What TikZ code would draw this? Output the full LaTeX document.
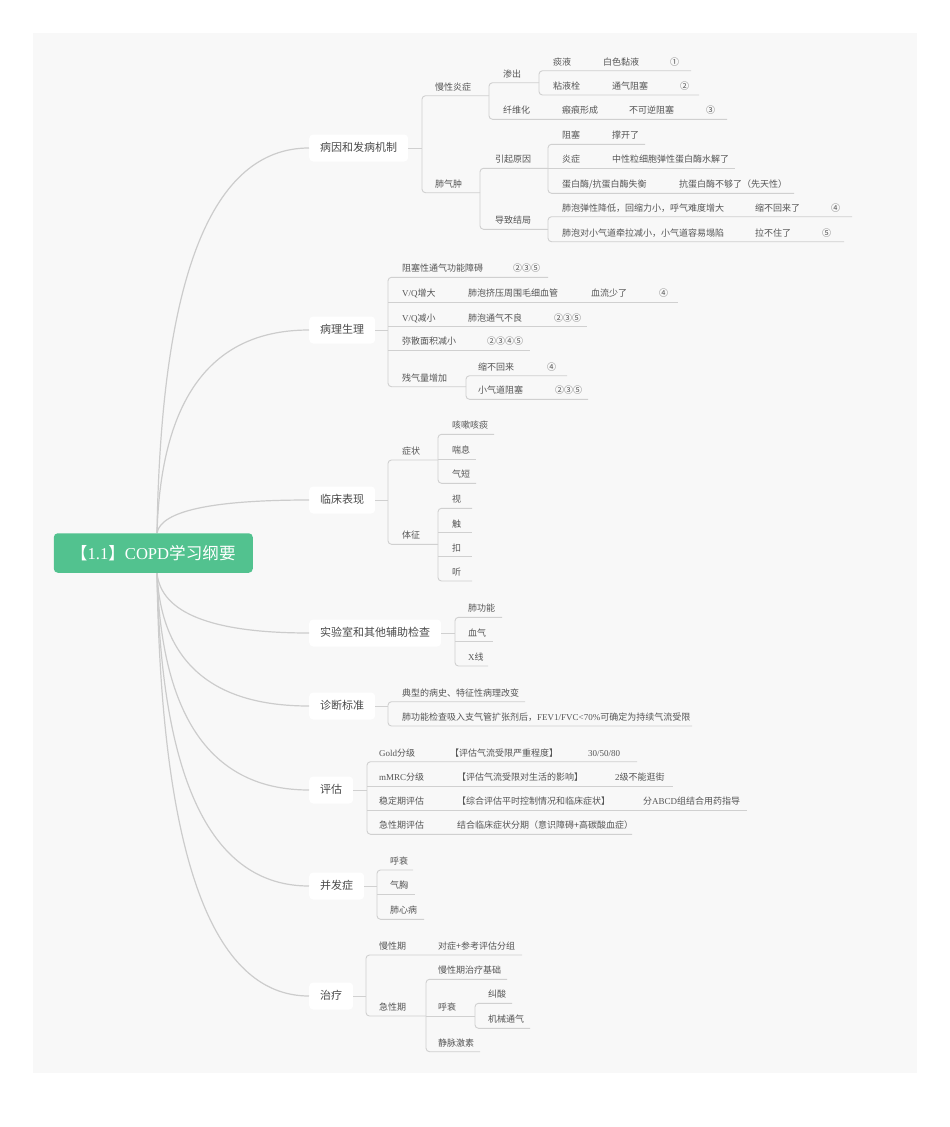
\documentclass[tikz,border=0pt]{standalone}
\usepackage{fontspec}
\setmainfont{Noto Sans CJK SC}
\newfontfamily\latfont{Liberation Serif}
\newcommand\lat[1]{{\latfont #1}}
\usetikzlibrary{calc}
\definecolor{panelbg}{HTML}{F8F8F8}
\definecolor{mmgreen}{HTML}{52C28F}
\definecolor{lncol}{HTML}{D0D0D0}
\definecolor{crvcol}{HTML}{CCCCCC}
\definecolor{txtcol}{HTML}{555555}
\definecolor{txtone}{HTML}{4A4A4A}
\tikzset{
  leaf/.style={anchor=west, inner sep=0pt, text height=7.4pt, text depth=1.2pt,
    font=\fontsize{9}{10}\selectfont, text=txtcol},
  ul/.style={draw=lncol, line width=0.9pt},
  lone/.style={anchor=west, fill=white, rounded corners=4pt, inner xsep=11pt, inner ysep=0pt,
    minimum height=27pt, text height=9pt, text depth=1.6pt,
    font=\fontsize{11}{12}\selectfont, text=txtone},
  rootbox/.style={fill=mmgreen, rounded corners=4pt, minimum width=199pt, minimum height=39.5pt,
    inner sep=0pt, text=white, font=\fontsize{16.6}{18}\selectfont},
  crv/.style={draw=crvcol, line width=1.2pt},
}
\newcommand\tx[4]{\node[leaf] (#1) at (#2,{#3-8.5}) {#4};}
\newcommand\ul[3]{\draw[ul] (#1,#3) -- (#2,#3);}
\newcommand\brk[5]{\draw[ul,rounded corners=3.5pt] (#3,#2) -- (#1,#2) -- (#1,#4) -- (#5,#4);}
\begin{document}
\begin{tikzpicture}[x=1pt,y=-1pt]
\useasboundingbox (0,0) rectangle (950,1127);
\fill[panelbg] (33,33) rectangle (917,1073);

% ---------- level one nodes
\node[lone] (n1) at (309,148) {病因和发病机制};
\node[lone] (n2) at (309,330) {病理生理};
\node[lone] (n3) at (309,500) {临床表现};
\node[lone] (n4) at (309,633) {实验室和其他辅助检查};
\node[lone] (n5) at (309,706) {诊断标准};
\node[lone] (n6) at (309,790) {评估};
\node[lone] (n7) at (309,886) {并发症};
\node[lone] (n8) at (309,996) {治疗};

% ---------- curves from root (quadratic-like)
\foreach \n/\sy in {n1/533,n2/533,n3/533,n4/573,n5/573,n6/573,n7/573,n8/573}{
  \coordinate (s) at (157,\sy);
  \coordinate (c) at ($(s |- \n.west)+(6,0)$);
  \draw[crv] (s) .. controls ($(s)!0.6667!(c)$) and ($(\n.west)!0.6667!(c)$) .. (\n.west);
}
\node[rootbox] (root) at (153.3,553) {【\lat{1.1}】\lat{COPD}学习纲要};

% ---------- branch 1
\draw[ul] (n1.east) -- (422,148);
\brk{422}{95.7}{489}{192.7}{480}
\tx{a1}{435}{95.7}{慢性炎症}
\tx{a2}{435}{192.7}{肺气肿}
\brk{489}{82.7}{539}{119.3}{727}
\tx{a11}{503}{82.7}{渗出}
\tx{a12}{503}{119.3}{纤维化}
\tx{a121}{562}{119.3}{瘢痕形成}
\tx{a122}{629}{119.3}{不可逆阻塞}
\tx{a123}{706}{119.3}{③}
\brk{539}{70.7}{691}{95}{699}
\tx{a111}{553}{70.7}{痰液}
\tx{a1111}{603}{70.7}{白色黏液}
\tx{a1112}{670}{70.7}{①}
\tx{a112}{553}{95}{粘液栓}
\tx{a1121}{612}{95}{通气阻塞}
\tx{a1122}{680}{95}{②}
\brk{480}{168.3}{548}{229.3}{548}
\tx{a21}{495}{168.3}{引起原因}
\tx{a22}{495}{229.3}{导致结局}
\brk{548}{144.3}{645}{193.3}{794}
\ul{548}{735}{168.3}
\tx{a211}{562}{144.3}{阻塞}
\tx{a2111}{612}{144.3}{撑开了}
\tx{a212}{562}{168.3}{炎症}
\tx{a2121}{612}{168.3}{中性粒细胞弹性蛋白酶水解了}
\tx{a213}{562}{193.3}{蛋白酶/抗蛋白酶失衡}
\tx{a2131}{679}{193.3}{抗蛋白酶不够了（先天性）}
\brk{548}{216.7}{852}{241.7}{844}
\tx{a221}{562}{216.7}{肺泡弹性降低，回缩力小，呼气难度增大}
\tx{a2211}{755}{216.7}{缩不回来了}
\tx{a2212}{831}{216.7}{④}
\tx{a222}{562}{241.7}{肺泡对小气道牵拉减小，小气道容易塌陷}
\tx{a2221}{755}{241.7}{拉不住了}
\tx{a2222}{822}{241.7}{⑤}

% ---------- branch 2
\draw[ul] (n2.east) -- (388,330);
\brk{388}{277.3}{548}{386.7}{466}
\ul{388}{678}{302.3}
\ul{388}{587}{326.7}
\ul{388}{530}{350}
\tx{b1}{402}{277.3}{阻塞性通气功能障碍}
\tx{b11}{513}{277.3}{②③⑤}
\tx{b2}{402}{302.3}{\lat{V/Q}增大}
\tx{b21}{468}{302.3}{肺泡挤压周围毛细血管}
\tx{b22}{591}{302.3}{血流少了}
\tx{b23}{659}{302.3}{④}
\tx{b3}{402}{326.7}{\lat{V/Q}减小}
\tx{b31}{468}{326.7}{肺泡通气不良}
\tx{b32}{554}{326.7}{②③⑤}
\tx{b4}{402}{350}{弥散面积减小}
\tx{b41}{487}{350}{②③④⑤}
\tx{b5}{402}{386.7}{残气量增加}
\brk{466}{375.7}{567}{399.3}{588}
\tx{b51}{478}{375.7}{缩不回来}
\tx{b511}{547}{375.7}{④}
\tx{b52}{478}{399.3}{小气道阻塞}
\tx{b521}{555}{399.3}{②③⑤}

% ---------- branch 3
\draw[ul] (n3.east) -- (388,500);
\brk{388}{460}{438}{544.3}{438}
\tx{c1}{402}{460}{症状}
\tx{c2}{402}{544.3}{体征}
\brk{438}{434.3}{494}{483.3}{476}
\ul{438}{476}{459.3}
\tx{c11}{452}{434.3}{咳嗽咳痰}
\tx{c12}{452}{459.3}{喘息}
\tx{c13}{452}{483.3}{气短}
\brk{438}{508.3}{472}{581}{472}
\ul{438}{472}{532.7}
\ul{438}{472}{556.7}
\tx{c21}{452}{508.3}{视}
\tx{c22}{452}{532.7}{触}
\tx{c23}{452}{556.7}{扣}
\tx{c24}{452}{581}{听}

% ---------- branch 4
\draw[ul] (n4.east) -- (455,633);
\brk{455}{617.3}{502}{666}{488}
\ul{455}{493}{641.7}
\tx{d1}{468}{617.3}{肺功能}
\tx{d2}{468}{641.7}{血气}
\tx{d3}{468}{666}{\lat{X}线}

% ---------- branch 5
\draw[ul] (n5.east) -- (388,706);
\brk{388}{701.7}{525}{726}{692}
\tx{e1}{402}{701.7}{典型的病史、特征性病理改变}
\tx{e2}{402}{726}{肺功能检查吸入支气管扩张剂后，\lat{FEV1/FVC<70\%}可确定为持续气流受限}

% ---------- branch 6
\draw[ul] (n6.east) -- (367,790);
\brk{367}{761.7}{637}{834.3}{632}
\ul{367}{673}{786}
\ul{367}{747}{810}
\tx{f1}{379}{761.7}{\lat{Gold}分级}
\tx{f11}{450}{761.7}{【评估气流受限严重程度】}
\tx{f12}{588}{761.7}{\lat{30/50/80}}
\tx{f2}{379}{786}{\lat{mMRC}分级}
\tx{f21}{457}{786}{【评估气流受限对生活的影响】}
\tx{f22}{615}{786}{\lat{2}级不能逛街}
\tx{f3}{379}{810}{稳定期评估}
\tx{f31}{457}{810}{【综合评估平时控制情况和临床症状】}
\tx{f32}{643}{810}{分\lat{ABCD}组结合用药指导}
\tx{f4}{379}{834.3}{急性期评估}
\tx{f41}{457}{834.3}{结合临床症状分期（意识障碍+高碳酸血症）}

% ---------- branch 7
\draw[ul] (n7.east) -- (377,886);
\brk{377}{870}{413}{919.3}{424}
\ul{377}{415}{894.3}
\tx{g1}{390}{870}{呼衰}
\tx{g2}{390}{894.3}{气胸}
\tx{g3}{390}{919.3}{肺心病}

% ---------- branch 8
\draw[ul] (n8.east) -- (366,996);
\brk{366}{955}{522}{1016}{426}
\tx{h1}{379}{955}{慢性期}
\tx{h11}{438}{955}{对症+参考评估分组}
\tx{h2}{379}{1016}{急性期}
\brk{426}{979.3}{507}{1051.7}{480}
\ul{426}{475}{1016}
\tx{h21}{438}{979.3}{慢性期治疗基础}
\tx{h22}{438}{1016}{呼衰}
\tx{h23}{438}{1051.7}{静脉激素}
\brk{475}{1003.3}{512}{1028.3}{530}
\tx{h221}{488}{1003.3}{纠酸}
\tx{h222}{488}{1028.3}{机械通气}
\end{tikzpicture}
\end{document}
